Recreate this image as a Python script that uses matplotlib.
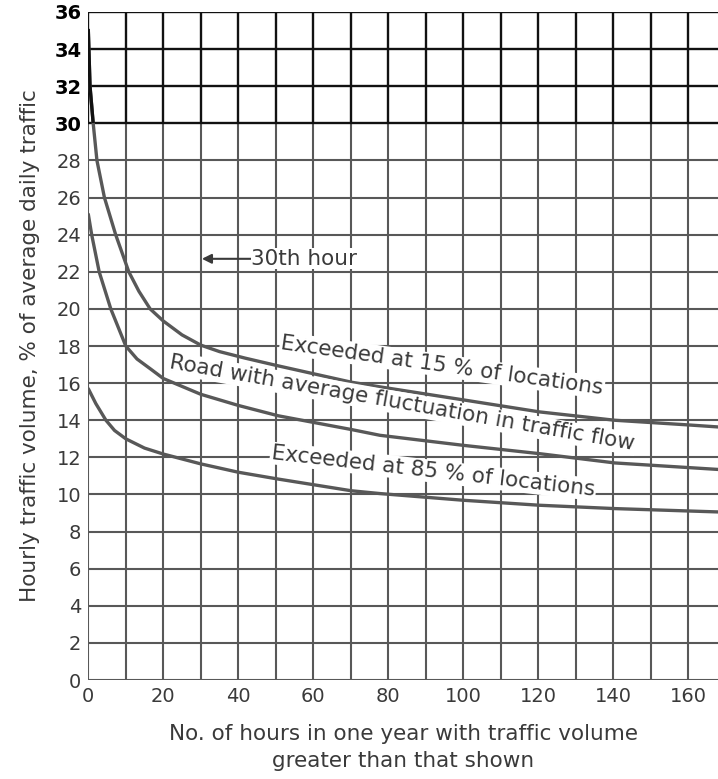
import matplotlib
matplotlib.use('Agg')
import matplotlib.pyplot as plt
from matplotlib.patches import Rectangle

# curve readings: hours per year vs hourly volume (% of ADT)
hours_15 = [0, 0.45, 1.3, 2.3, 4.3, 7.3, 10.8, 13.5, 16.5, 20, 25, 30, 35, 41.8, 50.7, 70.2, 77.8, 100, 120.4, 140.5, 160, 168]
pct_15 = [35.0, 32.0, 30.0, 28.0, 26.0, 24.0, 22.0, 20.95, 20.0, 19.35, 18.6, 18.05, 17.7, 17.35, 16.93, 16.05, 15.8, 15.1, 14.45, 14.0, 13.75, 13.64]

hours_avg = [0, 0.9, 2.9, 6.0, 10, 13, 16.7, 20, 30, 40, 50.7, 70.2, 77.8, 100, 120.4, 140.5, 168]
pct_avg = [25.1, 24.0, 22.0, 20.0, 18.0, 17.3, 16.75, 16.25, 15.4, 14.8, 14.24, 13.5, 13.19, 12.65, 12.2, 11.7, 11.35]

hours_85 = [0, 2, 4.7, 7, 10, 15, 20, 30, 40, 50.7, 70.2, 77.8, 100, 120.4, 140.5, 168]
pct_85 = [15.7, 14.9, 14.0, 13.45, 13.0, 12.5, 12.18, 11.65, 11.2, 10.83, 10.2, 10.05, 9.69, 9.42, 9.24, 9.06]

x_grid = list(range(0, 170, 10))
y_grid = list(range(0, 37, 2))
x_ticks = list(range(0, 161, 20))
y_ticks = list(range(0, 37, 2))

GRAY = '#585858'
TXT = '#3a3a3a'
DARK = '#111111'
XMAX = 168

fig = plt.figure(figsize=(7.18, 7.79), dpi=100)
ax = fig.add_axes([0.123, 0.127, 0.877, 0.8576])
ax.set_xlim(0, XMAX)
ax.set_ylim(0, 36)

# grid: black in the top band, gray below
for x in x_grid:
    ax.vlines(x, 0, 30, color=GRAY, lw=1.5, zorder=1)
    ax.vlines(x, 30, 36, color=DARK, lw=1.7, zorder=1)
for y in y_grid:
    if y >= 30:
        ax.hlines(y, 0, XMAX, color=DARK, lw=1.7, zorder=1)
    else:
        ax.hlines(y, 0, XMAX, color=GRAY, lw=1.5, zorder=1)

for s in ax.spines.values():
    s.set_visible(False)

for hx, py in [(hours_15, pct_15), (hours_avg, pct_avg), (hours_85, pct_85)]:
    ax.plot(hx, py, color=GRAY, lw=2.4, zorder=3, solid_capstyle='round', solid_joinstyle='round')

# part of top curve inside the dark band
top_band = Rectangle((0, 30), XMAX, 6, transform=ax.transData)
ln, = ax.plot(hours_15, pct_15, color=DARK, lw=2.4, zorder=3)
ln.set_clip_path(top_band)

ax.set_xticks(x_ticks)
ax.set_yticks(y_ticks)
ax.tick_params(length=0, labelsize=14, pad=5)
for lbl in ax.get_xticklabels():
    lbl.set_color(TXT)
for val, lbl in zip(y_ticks, ax.get_yticklabels()):
    if val >= 30:
        lbl.set_color('black')
        lbl.set_fontweight('bold')
    else:
        lbl.set_color(TXT)

ax.set_ylabel('Hourly traffic volume, % of average daily traffic',
              fontsize=15.5, color=TXT, labelpad=10)
ax.set_xlabel('No. of hours in one year with traffic volume\ngreater than that shown',
              fontsize=15.5, color=TXT, labelpad=13, linespacing=1.45)

box = dict(facecolor='white', edgecolor='none', pad=1.0)
ax.text(94.4, 16.95, 'Exceeded at 15 % of locations', rotation=-8, ha='center', va='center',
        fontsize=15.5, color=TXT, bbox=box, zorder=4)
ax.text(83.8, 14.9, 'Road with average fluctuation in traffic flow', rotation=-10,
        ha='center', va='center', fontsize=15.5, color=TXT, bbox=box, zorder=4)
ax.text(92, 11.25, 'Exceeded at 85 % of locations', rotation=-6.5, ha='center', va='center',
        fontsize=15.5, color=TXT, bbox=box, zorder=4)

ax.annotate('30th hour', xy=(30.3, 22.7), xytext=(43.5, 22.7), va='center', ha='left',
            fontsize=15.5, color=TXT,
            bbox=dict(facecolor='white', edgecolor='none', pad=0.5),
            arrowprops=dict(arrowstyle='-|>', color=TXT, lw=1.5, mutation_scale=14,
                            shrinkA=0, shrinkB=0),
            zorder=4)

fig.savefig('out.png', dpi=100)
